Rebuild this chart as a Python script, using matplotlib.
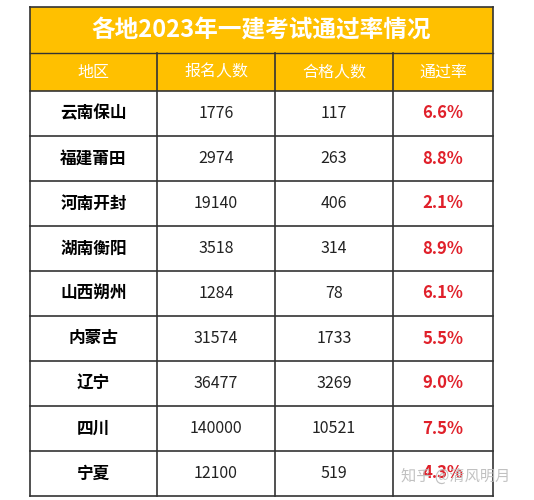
import matplotlib.pyplot as plt
from matplotlib.patches import Rectangle

plt.rcParams['font.family'] = ['Noto Sans CJK SC', 'DejaVu Sans']

title = '各地2023年一建考试通过率情况'
headers = ['地区', '报名人数', '合格人数', '通过率']
regions = ['云南保山', '福建莆田', '河南开封', '湖南衡阳', '山西朔州',
           '内蒙古', '辽宁', '四川', '宁夏']
applicants = [1776, 2974, 19140, 3518, 1284, 31574, 36477, 140000, 12100]
passed = [117, 263, 406, 314, 78, 1733, 3269, 10521, 519]
rates = ['6.6%', '8.8%', '2.1%', '8.9%', '6.1%', '5.5%', '9.0%', '7.5%', '4.3%']

col_x = [30, 157, 275, 393, 493]
top, title_bottom, header_bottom, bottom = 7, 53, 91, 496
row_h = (bottom - header_bottom) / len(regions)
yellow = '#FFC000'

fig = plt.figure(figsize=(5.34, 5.0), dpi=100)
ax = fig.add_axes([0, 0, 1, 1])
ax.set_xlim(0, 534)
ax.set_ylim(500, 0)
ax.axis('off')

ax.add_patch(Rectangle((col_x[0], top), col_x[-1] - col_x[0], header_bottom - top,
                       facecolor=yellow, edgecolor='none'))
ax.text((col_x[0] + col_x[-1]) / 2, (top + title_bottom) / 2 + 1, title,
        ha='center', va='center', color='white', fontsize=17, fontweight='bold')
ax.plot([col_x[0], col_x[-1]], [title_bottom, title_bottom], color='#333333', lw=1)
for i, h in enumerate(headers):
    ax.text((col_x[i] + col_x[i + 1]) / 2, (title_bottom + header_bottom) / 2, h,
            ha='center', va='center', color='white', fontsize=11.5)

for r in range(len(regions)):
    yc = header_bottom + (r + 0.5) * row_h
    vals = [regions[r], str(applicants[r]), str(passed[r]), rates[r]]
    for c, v in enumerate(vals):
        xc = (col_x[c] + col_x[c + 1]) / 2
        if c == 0:
            ax.text(xc, yc, v, ha='center', va='center', fontsize=12, fontweight='bold', color='black')
        elif c == 3:
            ax.text(xc, yc, v, ha='center', va='center', fontsize=12, fontweight='bold', color='#E0202A')
        else:
            ax.text(xc, yc, v, ha='center', va='center', fontsize=11.5, color='#222222')

# grid lines
for r in range(len(regions) + 1):
    y = header_bottom + r * row_h
    ax.plot([col_x[0], col_x[-1]], [y, y], color='#333333', lw=1.2)
for x in col_x:
    y0 = top if x in (col_x[0], col_x[-1]) else title_bottom
    ax.plot([x, x], [y0, bottom], color='#333333', lw=1.2)
ax.plot([col_x[0], col_x[-1]], [top, top], color='#333333', lw=1.2)

ax.text(510, 476, '知乎 @清风明月', ha='right', va='center', fontsize=11,
        color='#BBBBBB', alpha=0.9)

fig.savefig('out.png', dpi=100, facecolor='white')
